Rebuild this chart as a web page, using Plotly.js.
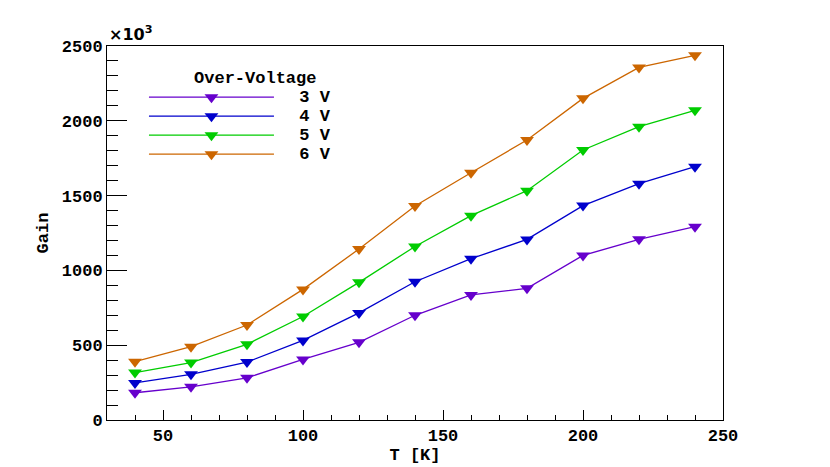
<!DOCTYPE html>
<html>
<head>
<meta charset="utf-8">
<script src="https://cdn.plot.ly/plotly-3.0.1.min.js"></script>
<style>
  html, body { margin: 0; padding: 0; background: #fff; }
  #plot { width: 830px; height: 467px; }
</style>
</head>
<body>
<div id="plot"></div>
<script>
// temperature [K]
var temps = [40, 60, 80, 100, 120, 140, 160, 180, 200, 220, 240];
// gain in units of 10^3, one array per over-voltage
var gain3V = [182, 222, 282, 405, 519, 700, 836, 880, 1100, 1208, 1292];
var gain4V = [248, 305, 387, 532, 716, 924, 1078, 1207, 1433, 1580, 1693];
var gain5V = [317, 384, 506, 692, 920, 1160, 1366, 1533, 1805, 1961, 2070];
var gain6V = [390, 490, 635, 873, 1143, 1431, 1653, 1872, 2150, 2357, 2438];
var seriesNames = ['3 V', '4 V', '5 V', '6 V'];
var seriesColors = ['#6600cc', '#0000cc', '#00cc00', '#cc6600'];

var monoFont = '"Liberation Mono", "Courier New", monospace';

var traces = [gain3V, gain4V, gain5V, gain6V].map(function(vals, i) {
	return {
		type: 'scatter',
		mode: 'lines+markers',
		// legend font is kept small so rows sit close; the label itself is drawn larger
		name: '<span style="font-size:17px">&nbsp;&nbsp;' + seriesNames[i] + '</span>',
		x: temps,
		y: vals,
		line: {color: seriesColors[i], width: 1.3},
		marker: {symbol: 'triangle-down', size: 12, color: seriesColors[i]}
	};
});

var layout = {
	width: 830,
	height: 467,
	paper_bgcolor: '#fff',
	plot_bgcolor: '#fff',
	margin: {l: 107, r: 107, t: 46, b: 47},
	font: {family: monoFont, size: 15, color: '#000', weight: 'bold'},
	showlegend: true,
	legend: {
		x: 0.060,
		y: 0.961,
		xanchor: 'left',
		yanchor: 'top',
		bgcolor: 'rgba(0,0,0,0)',
		borderwidth: 0,
		itemwidth: 125,
		font: {family: monoFont, size: 12, weight: 'bold'},
		title: {text: '&nbsp;&nbsp;&nbsp;Over-Voltage', side: 'top center', font: {family: monoFont, size: 17, weight: 'bold'}},
		traceorder: 'normal'
	},
	xaxis: {
		range: [30, 250],
		dtick: 50,
		tick0: 0,
		ticks: 'inside',
		ticklen: 10,
		tickwidth: 1,
		tickcolor: '#000',
		minor: {dtick: 10, ticks: 'inside', ticklen: 5, tickcolor: '#000'},
		showline: true,
		linecolor: '#000',
		linewidth: 1,
		mirror: true,
		showgrid: false,
		zeroline: false,
		tickfont: {family: monoFont, size: 17, weight: 'bold'},
		title: {text: 'T [K]', font: {family: monoFont, size: 17, weight: 'bold'}, standoff: 2}
	},
	yaxis: {
		range: [0, 2500],
		dtick: 500,
		ticks: 'inside',
		ticklen: 20,
		tickwidth: 1,
		tickcolor: '#000',
		minor: {dtick: 100, ticks: 'inside', ticklen: 11, tickcolor: '#000'},
		showline: true,
		linecolor: '#000',
		linewidth: 1,
		mirror: true,
		showgrid: false,
		zeroline: false,
		tickfont: {family: monoFont, size: 17, weight: 'bold'},
		title: {text: 'Gain', font: {family: monoFont, size: 17, weight: 'bold'}, standoff: 8}
	},
	annotations: [{
		xref: 'paper', yref: 'paper',
		x: 0, y: 1,
		xanchor: 'left', yanchor: 'bottom',
		showarrow: false,
		text: '\u00d710<sup>3</sup>',
		font: {family: '"DejaVu Sans", sans-serif', size: 16, color: '#000'}
	}]
};

Plotly.newPlot('plot', traces, layout, {displayModeBar: false, staticPlot: true});
</script>
</body>
</html>
